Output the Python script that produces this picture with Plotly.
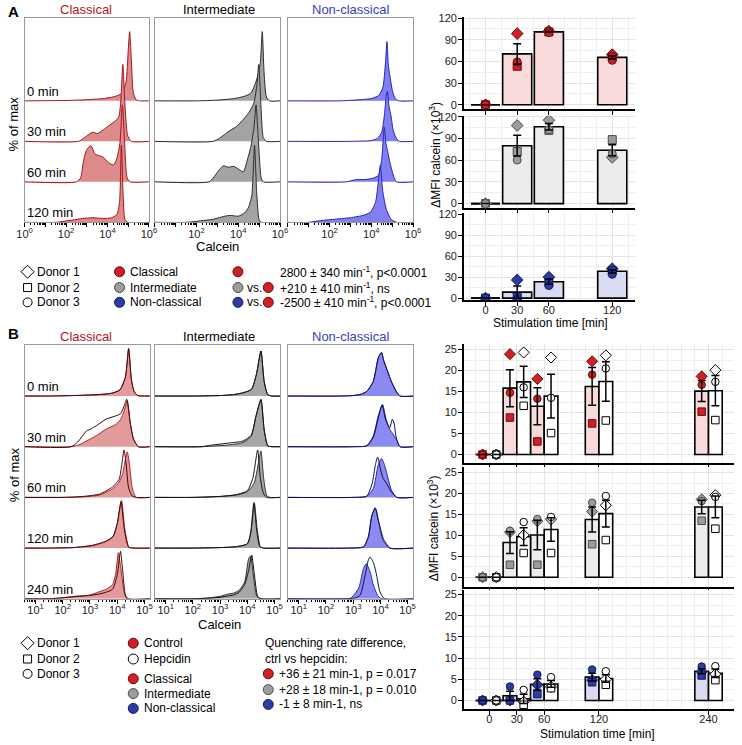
import math
import plotly.graph_objects as go

W, H = 742, 745
FONT = "Liberation Sans, Arial, Helvetica, sans-serif"

# ---------------- data: panel A bar charts (dMFI calcein x10^3) ----------------
A_TIMES = [0, 30, 60, 120]
A_CLA_D1 = [0, 98.6, 102.0, 69.5]   # diamond
A_CLA_D2 = [0, 53.4, 101.0, 66.0]   # square
A_CLA_D3 = [0, 59.4, 100.0, 61.6]   # circle
A_CLA_MEAN = [0, 70.5, 101.0, 65.7]
A_CLA_SEM = [0, 14.2, 0.6, 2.3]

A_INT_D1 = [0, 108.2, 115.5, 64.0]
A_INT_D2 = [0, 72.0, 101.4, 88.6]
A_INT_D3 = [0, 60.3, 102.3, 69.0]
A_INT_MEAN = [0, 80.2, 106.4, 73.9]
A_INT_SEM = [0, 14.4, 4.4, 7.5]

A_NON_D1 = [0, 26.0, 30.0, 42.0]
A_NON_D2 = [0, 1.5, 22.0, 39.0]
A_NON_D3 = [0, -2.0, 18.0, 34.0]
A_NON_MEAN = [0, 8.5, 23.3, 38.3]
A_NON_SEM = [0, 8.8, 3.5, 2.3]

# ---------------- data: panel B bar charts ----------------
B_TIMES = [0, 30, 60, 120, 240]
B_CLA_CTRL_D1 = [0, 23.9, 18.0, 22.2, 18.6]
B_CLA_CTRL_D2 = [0, 8.8, 3.1, 7.4, 10.2]
B_CLA_CTRL_D3 = [0, 14.7, 13.3, 19.0, 16.6]
B_CLA_CTRL_MEAN = [0, 15.8, 11.5, 16.2, 15.1]
B_CLA_CTRL_SEM = [0, 4.4, 4.4, 4.5, 2.5]
B_CLA_HEP_D1 = [0, 24.3, 23.1, 23.6, 20.1]
B_CLA_HEP_D2 = [0, 11.6, 5.1, 8.1, 8.2]
B_CLA_HEP_D3 = [0, 16.0, 13.5, 20.5, 17.3]
B_CLA_HEP_MEAN = [0, 17.3, 13.9, 17.4, 15.2]
B_CLA_HEP_SEM = [0, 3.7, 5.2, 4.7, 3.6]

B_INT_CTRL_D1 = [0, 10.8, 13.4, 15.7, 18.6]
B_INT_CTRL_D2 = [0, 3.0, 3.0, 7.9, 13.5]
B_INT_CTRL_D3 = [0, 11.1, 13.9, 17.8, 18.2]
B_INT_CTRL_MEAN = [0, 8.3, 10.1, 13.8, 16.8]
B_INT_CTRL_SEM = [0, 2.6, 3.5, 3.0, 1.6]
B_INT_HEP_D1 = [0, 10.1, 13.9, 17.2, 19.6]
B_INT_HEP_D2 = [0, 5.8, 5.8, 8.9, 11.6]
B_INT_HEP_D3 = [0, 13.2, 14.4, 19.4, 19.2]
B_INT_HEP_MEAN = [0, 9.7, 11.4, 15.2, 16.8]
B_INT_HEP_SEM = [0, 2.1, 2.8, 3.2, 2.6]

B_NON_CTRL_D1 = [0, 0.0, 3.7, 4.8, 6.8]
B_NON_CTRL_D2 = [0, 0.0, 1.5, 4.3, 5.9]
B_NON_CTRL_D3 = [0, 3.3, 6.1, 7.3, 8.0]
B_NON_CTRL_MEAN = [0, 1.1, 3.8, 5.5, 6.9]
B_NON_CTRL_SEM = [0, 1.1, 1.3, 0.9, 0.6]
B_NON_HEP_D1 = [0, -0.3, 3.2, 5.0, 6.2]
B_NON_HEP_D2 = [0, -1.0, 2.9, 3.7, 4.8]
B_NON_HEP_D3 = [0, 2.5, 5.5, 6.9, 8.1]
B_NON_HEP_MEAN = [0, 0.4, 3.9, 5.2, 6.4]
B_NON_HEP_SEM = [0, 1.1, 0.8, 0.9, 1.0]

# ---------------- data: histograms (log10 calcein, % of max) ----------------
A_ROWS = ["0 min", "30 min", "60 min", "120 min"]
HA_CLA = [
    [(2.0, 0.5), (3.0, 1.5), (3.8, 3), (4.4, 6), (4.7, 10), (4.9, 25), (5.0, 65), (5.07, 90), (5.15, 55), (5.25, 10), (5.4, 1), (5.6, 0)],
    [(2.6, 0), (2.85, 4), (3.1, 9), (3.3, 12), (3.5, 10), (3.8, 15), (4.1, 21), (4.4, 27), (4.55, 32), (4.65, 55), (4.74, 100), (4.85, 45), (4.97, 8), (5.15, 0)],
    [(2.5, 0), (2.7, 5), (2.85, 28), (3.0, 42), (3.2, 47), (3.4, 36), (3.6, 34), (3.8, 32), (4.05, 25), (4.3, 22), (4.45, 30), (4.6, 50), (4.72, 100), (4.82, 55), (4.95, 5), (5.1, 0)],
    [(1.5, 0), (2.3, 3), (2.8, 5), (3.3, 6), (3.8, 5), (4.2, 6), (4.45, 10), (4.58, 25), (4.67, 100), (4.75, 40), (4.85, 3), (5.0, 0)],
]
HA_INT = [
    [(2.0, 0), (3.0, 1), (3.8, 3), (4.3, 6), (4.6, 10), (4.85, 25), (4.98, 38), (5.06, 50), (5.15, 90), (5.24, 35), (5.35, 5), (5.5, 0)],
    [(2.8, 0), (3.1, 4), (3.4, 10), (3.6, 14), (3.9, 19), (4.2, 27), (4.5, 37), (4.75, 50), (4.9, 75), (4.98, 100), (5.08, 50), (5.2, 5), (5.35, 0)],
    [(2.6, 0), (2.8, 5), (3.1, 16), (3.3, 21), (3.5, 19), (3.8, 20), (4.1, 15), (4.25, 13), (4.45, 30), (4.6, 45), (4.75, 70), (4.85, 100), (4.95, 60), (5.1, 5), (5.2, 0)],
    [(1.5, 0), (2.2, 2), (2.8, 4), (3.2, 7), (3.6, 9), (4.0, 8), (4.3, 12), (4.5, 20), (4.65, 35), (4.78, 100), (4.88, 40), (5.0, 3), (5.1, 0)],
]
HA_NON = [
    [(2.5, 0), (3.2, 1), (4.0, 3), (4.35, 7), (4.55, 17), (4.68, 50), (4.75, 77), (4.82, 45), (4.92, 27), (5.02, 12), (5.15, 3), (5.3, 0)],
    [(3.0, 0), (4.0, 1), (4.3, 4), (4.5, 12), (4.63, 35), (4.72, 60), (4.77, 65), (4.85, 45), (4.95, 32), (5.05, 14), (5.2, 4), (5.35, 0)],
    [(2.8, 0), (3.3, 3), (3.7, 3), (4.1, 5), (4.35, 9), (4.5, 30), (4.62, 71), (4.7, 50), (4.78, 40), (4.9, 24), (5.05, 9), (5.2, 0)],
    [(1.0, 0), (1.5, 2), (2.2, 4), (3.0, 6), (3.6, 9), (3.95, 13), (4.2, 26), (4.33, 51), (4.43, 74), (4.55, 40), (4.72, 17), (4.95, 4), (5.2, 0)],
]

B_ROWS = ["0 min", "30 min", "60 min", "120 min", "240 min"]
HB_CLA_CTRL = [
    [(1.5, 0), (2.4, 1), (3.3, 3), (3.8, 6), (4.1, 13), (4.3, 40), (4.42, 100), (4.52, 35), (4.62, 10), (4.75, 1), (5.0, 0)],
    [(2.3, 0), (2.6, 4), (2.87, 12), (3.23, 23), (3.59, 37), (3.95, 47), (4.13, 58), (4.25, 75), (4.37, 97), (4.48, 50), (4.6, 16), (4.78, 0)],
    [(2.0, 0), (2.75, 1), (3.35, 5), (3.83, 18), (4.07, 32), (4.2, 50), (4.3, 80), (4.37, 96), (4.45, 70), (4.55, 20), (4.7, 0)],
    [(1.5, 0), (2.4, 1), (3.1, 5), (3.6, 14), (3.85, 24), (4.0, 50), (4.16, 100), (4.28, 40), (4.43, 2), (4.6, 0)],
    [(1.5, 0), (2.0, 2), (2.4, 5), (3.0, 8), (3.35, 15), (3.6, 20), (3.83, 30), (3.95, 55), (4.04, 97), (4.12, 70), (4.25, 15), (4.35, 0)],
]
HB_CLA_HEP = [
    [(1.5, 0), (2.4, 1), (3.3, 3), (3.8, 6), (4.1, 13), (4.3, 40), (4.42, 100), (4.52, 35), (4.62, 10), (4.75, 1), (5.0, 0)],
    [(2.3, 0), (2.55, 10), (2.87, 33), (3.05, 38), (3.23, 44), (3.59, 58), (3.95, 65), (4.13, 70), (4.25, 85), (4.35, 100), (4.48, 50), (4.6, 16), (4.78, 0)],
    [(2.0, 0), (2.75, 2), (3.35, 7), (3.83, 22), (4.07, 38), (4.17, 70), (4.25, 100), (4.33, 70), (4.42, 20), (4.55, 3), (4.7, 0)],
    [(1.5, 0), (2.4, 1), (3.1, 6), (3.6, 15), (3.85, 25), (4.0, 52), (4.14, 98), (4.26, 40), (4.42, 2), (4.6, 0)],
    [(1.5, 0), (2.0, 2), (2.4, 4), (3.0, 7), (3.35, 10), (3.6, 14), (3.83, 20), (4.0, 50), (4.12, 100), (4.2, 60), (4.3, 8), (4.4, 0)],
]
HB_INT_CTRL = [
    [(2.0, 0), (3.0, 1), (3.5, 3), (3.85, 7), (4.15, 14), (4.33, 45), (4.5, 95), (4.62, 30), (4.75, 3), (4.9, 0)],
    [(2.3, 0), (2.64, 1), (3.36, 4), (3.84, 9), (4.14, 22), (4.32, 65), (4.5, 99), (4.62, 35), (4.75, 2), (4.9, 0)],
    [(2.0, 0), (3.0, 2), (3.6, 5), (4.0, 12), (4.25, 30), (4.4, 70), (4.5, 98), (4.6, 40), (4.72, 3), (4.85, 0)],
    [(2.0, 0), (3.0, 1), (3.6, 3), (4.0, 9), (4.12, 30), (4.26, 94), (4.36, 40), (4.48, 3), (4.6, 0)],
    [(2.0, 0), (2.6, 2), (3.0, 5), (3.3, 10), (3.5, 12), (3.7, 18), (3.9, 35), (4.05, 85), (4.12, 90), (4.22, 50), (4.35, 5), (4.5, 0)],
]
HB_INT_HEP = [
    [(2.0, 0), (3.0, 1), (3.5, 3), (3.85, 7), (4.15, 14), (4.33, 45), (4.5, 95), (4.62, 30), (4.75, 3), (4.9, 0)],
    [(2.3, 0), (2.64, 3), (3.36, 8), (3.84, 12), (4.14, 24), (4.32, 65), (4.5, 100), (4.62, 35), (4.75, 2), (4.9, 0)],
    [(2.0, 0), (3.0, 2), (3.6, 6), (4.0, 14), (4.2, 40), (4.38, 100), (4.47, 45), (4.58, 10), (4.7, 0)],
    [(2.0, 0), (3.0, 1), (3.6, 3), (4.0, 9), (4.12, 32), (4.24, 96), (4.34, 40), (4.46, 3), (4.6, 0)],
    [(2.0, 0), (2.6, 1), (3.0, 3), (3.3, 6), (3.5, 8), (3.7, 14), (3.9, 30), (4.05, 60), (4.16, 92), (4.26, 50), (4.38, 5), (4.5, 0)],
]
HB_NON_CTRL = [
    [(2.5, 0), (3.0, 1), (3.3, 4), (3.5, 10), (3.74, 31), (3.92, 80), (4.04, 92), (4.12, 75), (4.22, 59), (4.4, 31), (4.58, 10), (4.72, 0)],
    [(3.0, 0), (3.5, 2), (3.74, 23), (3.92, 65), (4.08, 89), (4.2, 60), (4.34, 37), (4.46, 27), (4.58, 16), (4.72, 0)],
    [(3.0, 0), (3.5, 2), (3.74, 19), (3.92, 68), (4.04, 82), (4.14, 70), (4.22, 54), (4.4, 16), (4.6, 0)],
    [(2.8, 0), (3.38, 2), (3.56, 23), (3.68, 65), (3.8, 85), (3.92, 58), (4.1, 16), (4.34, 0)],
    [(2.6, 0), (2.9, 1), (3.2, 22), (3.38, 64), (3.48, 74), (3.62, 57), (3.74, 29), (3.92, 5), (4.05, 0)],
]
HB_NON_HEP = [
    [(2.5, 0), (3.0, 1), (3.3, 4), (3.5, 10), (3.74, 31), (3.92, 80), (4.04, 92), (4.12, 75), (4.22, 59), (4.4, 31), (4.58, 10), (4.72, 0)],
    [(3.0, 0), (3.5, 2), (3.74, 20), (3.92, 60), (4.06, 88), (4.2, 55), (4.34, 40), (4.44, 58), (4.5, 50), (4.58, 20), (4.72, 0)],
    [(3.0, 0), (3.5, 3), (3.7, 30), (3.82, 70), (3.9, 85), (4.0, 60), (4.1, 40), (4.22, 30), (4.4, 12), (4.6, 0)],
    [(2.8, 0), (3.38, 3), (3.56, 25), (3.68, 68), (3.82, 84), (3.94, 55), (4.12, 18), (4.36, 0)],
    [(2.8, 0), (3.1, 2), (3.26, 8), (3.44, 50), (3.55, 80), (3.62, 88), (3.75, 75), (3.86, 50), (3.98, 15), (4.15, 0)],
]

# ---------------- colours ----------------
RED_TXT, BLUE_TXT = "#B8141C", "#3A3EB8"
RED_M, RED_E, RED_BAR = "#CF1F27", "#6A0A0E", "#F8DADA"
GRAY_M, GRAY_E, GRAY_BAR = "#9C9C9C", "#4A4A4A", "#ECECEC"
BLUE_M, BLUE_E, BLUE_BAR = "#2E3BA2", "#151A5C", "#D8DBF2"

HIST_A = [("#DD8A8A", "#A3141C"), ("#A3A3A3", "#2B2B2B"), ("#8080F2", "#2424B5")]
HIST_B = [("#E39A9A", "#B0242A", "#3A0808"), ("#A6A6A6", "#333333", "#111111"),
          ("#8A8AF0", "#2A2AB0", "#0C0C50")]


def xdom(a, b):
    return [a / W, b / W]


def ydom(top, bot):
    return [1 - bot / H, 1 - top / H]


def xr(i):
    return "x" if i == 1 else f"x{i}"


def yr(i):
    return "y" if i == 1 else f"y{i}"


fig = go.Figure()
layout = {}

# ---------------- histograms ----------------
A_COLS = [(17, 144), (150, 278), (286, 414)]
B_COLS = [(17, 145), (150, 278), (286, 414)]
A_XR, B_XR = [0, 6], [0.6, 5.2]
A_YR, B_YR = [0, 5.05], [0, 5.01]
A_PEAK, B_PEAK = 1.9, 0.936


def minor_vals(lo, hi):
    vals = []
    for n in range(-1, 8):
        for k in range(2, 10):
            v = n + math.log10(k)
            if lo < v < hi:
                vals.append(v)
    return vals


def hist_axes(i, xd, yd, xrange, yrange, labels):
    decades = [d for d in range(0, 8) if xrange[0] <= d <= xrange[1] + 1e-9]
    layout["xaxis" if i == 1 else f"xaxis{i}"] = dict(
        domain=xd, range=xrange, anchor=yr(i), showgrid=False, zeroline=False,
        showline=True, mirror=True, linecolor="#9A9A9A", linewidth=1,
        ticks="outside", ticklen=4, tickwidth=1, tickcolor="black",
        tickvals=decades,
        ticktext=[f"10<sup>{d}</sup>" if d in labels else "" for d in decades],
        tickfont=dict(size=11, color="#222"), ticklabelstandoff=-3,
        minor=dict(tickmode="array", tickvals=minor_vals(*xrange), ticks="outside",
                   ticklen=2, tickwidth=1, tickcolor="black", showgrid=False),
        fixedrange=True)
    layout["yaxis" if i == 1 else f"yaxis{i}"] = dict(
        domain=yd, range=yrange, anchor=xr(i), showgrid=False, zeroline=False,
        showline=True, mirror=True, linecolor="#9A9A9A", linewidth=1,
        showticklabels=False, ticks="", fixedrange=True)


def curve(points, base, peak, xrange):
    xs = [xrange[0]] + [p[0] for p in points] + [xrange[1]]
    ys = [base] + [base + p[1] / 100 * peak for p in points] + [base]
    return xs, ys


# panel A histograms
for c, (curves, (fill, line)) in enumerate(zip([HA_CLA, HA_INT, HA_NON], HIST_A)):
    i = c + 1
    labels = [0, 2, 4, 6] if c == 0 else [2, 4, 6]
    hist_axes(i, xdom(*A_COLS[c]), ydom(13, 220), A_XR, A_YR, labels)
    n = len(curves)
    for r, pts in enumerate(curves):
        xs, ys = curve(pts, n - 1 - r, A_PEAK, A_XR)
        fig.add_trace(go.Scatter(x=xs, y=ys, xaxis=xr(i), yaxis=yr(i), mode="lines",
                                 fill="toself", fillcolor=fill,
                                 line=dict(color=line, width=1, shape="spline", smoothing=0.6),
                                 hoverinfo="skip"))

# panel B histograms
B_SETS = [(HB_CLA_CTRL, HB_CLA_HEP), (HB_INT_CTRL, HB_INT_HEP), (HB_NON_CTRL, HB_NON_HEP)]
for c, ((ctrl, hep), (fill, line, oline)) in enumerate(zip(B_SETS, HIST_B)):
    i = c + 4
    hist_axes(i, xdom(*B_COLS[c]), ydom(344, 601), B_XR, B_YR, [1, 2, 3, 4, 5])
    n = len(ctrl)
    for r in range(n):
        base = n - 1 - r
        xs, ys = curve(ctrl[r], base, B_PEAK, B_XR)
        fig.add_trace(go.Scatter(x=xs, y=ys, xaxis=xr(i), yaxis=yr(i), mode="lines",
                                 fill="toself", fillcolor=fill,
                                 line=dict(color=line, width=1, shape="spline", smoothing=0.6),
                                 hoverinfo="skip"))
        xs, ys = curve(hep[r], base, B_PEAK, B_XR)
        fig.add_trace(go.Scatter(x=xs, y=ys, xaxis=xr(i), yaxis=yr(i), mode="lines",
                                 line=dict(color=oline, width=1, shape="spline", smoothing=0.6),
                                 hoverinfo="skip"))

# ---------------- bar charts ----------------
def bar_axes(i, xd, yd, xrange, yrange, xticks, ydt, show_xlabels):
    layout["xaxis" if i == 1 else f"xaxis{i}"] = dict(
        domain=xd, range=xrange, anchor=yr(i), zeroline=False,
        showline=True, linecolor="black", linewidth=1.6,
        ticks="outside", ticklen=4, tickwidth=1.3, tickcolor="black",
        tickvals=xticks, showticklabels=show_xlabels,
        tickfont=dict(size=11, color="#222"), ticklabelstandoff=-5,
        showgrid=True, gridcolor="#E4E4E4", gridwidth=1,
        minor=dict(tickmode="linear", tick0=0, dtick=15, showgrid=True,
                   gridcolor="#EEEEEE", gridwidth=1),
        fixedrange=True)
    layout["yaxis" if i == 1 else f"yaxis{i}"] = dict(
        domain=yd, range=yrange, anchor=xr(i), zeroline=False,
        showline=True, linecolor="black", linewidth=1.6,
        ticks="outside", ticklen=4, tickwidth=1.3, tickcolor="black",
        tickmode="linear", tick0=0, dtick=ydt,
        tickfont=dict(size=11, color="#222"), ticklabelstandoff=-1,
        showgrid=True, gridcolor="#E4E4E4", gridwidth=1,
        minor=dict(tickmode="linear", tick0=0, dtick=ydt / 2, showgrid=True,
                   gridcolor="#EEEEEE", gridwidth=1),
        fixedrange=True)


SYMS = ["diamond", "square", "circle"]


def bar_group(i, times, mean, sem, donors, bar_fill, mfill, medge, width, offset, msize):
    xs_c = [t + offset + width / 2 for t in times]
    fig.add_trace(go.Bar(x=times, y=mean, width=width, offset=offset, xaxis=xr(i), yaxis=yr(i),
                         marker=dict(color=bar_fill, line=dict(color="black", width=1.6)),
                         hoverinfo="skip"))
    zero_x = [x for x, m in zip(xs_c, mean) if m == 0]
    if zero_x:
        fig.add_trace(go.Scatter(x=zero_x, y=[0] * len(zero_x), xaxis=xr(i), yaxis=yr(i),
                                 mode="markers", marker=dict(size=1, color="rgba(0,0,0,0)"),
                                 error_x=dict(type="constant", value=width / 2, width=0,
                                              thickness=1.6, color="black"),
                                 hoverinfo="skip"))
    for sym, vals in zip(SYMS, donors):
        fig.add_trace(go.Scatter(x=xs_c, y=vals, xaxis=xr(i), yaxis=yr(i), mode="markers",
                                 marker=dict(symbol=sym, size=msize + (1 if sym == "diamond" else 0),
                                             color=mfill, line=dict(color=medge, width=1)),
                                 hoverinfo="skip"))
    fig.add_trace(go.Scatter(x=xs_c, y=mean, xaxis=xr(i), yaxis=yr(i), mode="markers",
                             marker=dict(size=1, color="rgba(0,0,0,0)"),
                             error_y=dict(type="data", array=sem, width=4, thickness=1.5,
                                          color="black"),
                             hoverinfo="skip"))


A_BAR_Y = [(12, 105, [-5.47, 121.8]), (112, 205, [-5.47, 121.8]), (211, 299, [-3.25, 121.0])]
A_GROUPS = [
    (A_CLA_MEAN, A_CLA_SEM, [A_CLA_D1, A_CLA_D2, A_CLA_D3], RED_BAR, RED_M, RED_E),
    (A_INT_MEAN, A_INT_SEM, [A_INT_D1, A_INT_D2, A_INT_D3], GRAY_BAR, GRAY_M, GRAY_E),
    (A_NON_MEAN, A_NON_SEM, [A_NON_D1, A_NON_D2, A_NON_D3], BLUE_BAR, BLUE_M, BLUE_E),
]
for k, ((top, bot, yrange), g) in enumerate(zip(A_BAR_Y, A_GROUPS)):
    i = 7 + k
    bar_axes(i, xdom(466, 641), ydom(top, bot), [-20.4, 141.7], yrange, A_TIMES, 30, k == 2)
    mean, sem, donors, bfill, mfill, medge = g
    bar_group(i, A_TIMES, mean, sem, donors, bfill, mfill, medge, 27.5, -13.75, 8)

B_BAR_Y = [(343, 464, [-2.12, 26.35]), (468, 589, [-2.29, 26.25]), (592, 713, [-2.1, 26.1])]
B_GROUPS = [
    ((B_CLA_CTRL_MEAN, B_CLA_CTRL_SEM, [B_CLA_CTRL_D1, B_CLA_CTRL_D2, B_CLA_CTRL_D3]),
     (B_CLA_HEP_MEAN, B_CLA_HEP_SEM, [B_CLA_HEP_D1, B_CLA_HEP_D2, B_CLA_HEP_D3]), RED_BAR, RED_M, RED_E),
    ((B_INT_CTRL_MEAN, B_INT_CTRL_SEM, [B_INT_CTRL_D1, B_INT_CTRL_D2, B_INT_CTRL_D3]),
     (B_INT_HEP_MEAN, B_INT_HEP_SEM, [B_INT_HEP_D1, B_INT_HEP_D2, B_INT_HEP_D3]), GRAY_BAR, GRAY_M, GRAY_E),
    ((B_NON_CTRL_MEAN, B_NON_CTRL_SEM, [B_NON_CTRL_D1, B_NON_CTRL_D2, B_NON_CTRL_D3]),
     (B_NON_HEP_MEAN, B_NON_HEP_SEM, [B_NON_HEP_D1, B_NON_HEP_D2, B_NON_HEP_D3]), BLUE_BAR, BLUE_M, BLUE_E),
]
for k, ((top, bot, yrange), g) in enumerate(zip(B_BAR_Y, B_GROUPS)):
    i = 10 + k
    bar_axes(i, xdom(466, 742), ydom(top, bot), [-27.9, 267.9], yrange, B_TIMES, 5, k == 2)
    ctrl, hep, bfill, mfill, medge = g
    bar_group(i, B_TIMES, ctrl[0], ctrl[1], ctrl[2], bfill, mfill, medge, 15, -15, 7.5)
    bar_group(i, B_TIMES, hep[0], hep[1], hep[2], "white", "white", "black", 15, 0, 7.5)

# ---------------- legend glyphs (pixel overlay) ----------------
layout["xaxis13"] = dict(domain=[0, 1], range=[0, W], anchor="y13", visible=False, fixedrange=True)
layout["yaxis13"] = dict(domain=[0, 1], range=[H, 0], anchor="x13", visible=False, fixedrange=True)


def glyph(x, y, sym, fill, edge, size=10):
    fig.add_trace(go.Scatter(x=[x], y=[y], xaxis="x13", yaxis="y13", mode="markers",
                             marker=dict(symbol=sym, size=size, color=fill, line=dict(color=edge, width=1)),
                             hoverinfo="skip"))


for y0 in (270, 646):
    glyph(20, y0, "diamond-open", "black", "black", 10)
    glyph(20, y0 + 16, "square-open", "black", "black", 8)
    glyph(20, y0 + 31, "circle-open", "black", "black", 9)

glyph(114, 270, "circle", RED_M, RED_E)
glyph(114, 286, "circle", GRAY_M, GRAY_E)
glyph(114, 301, "circle", BLUE_M, BLUE_E)
glyph(235, 270, "circle", RED_M, RED_E)
glyph(235, 286, "circle", GRAY_M, GRAY_E)
glyph(266, 286, "circle", RED_M, RED_E)
glyph(235, 301, "circle", BLUE_M, BLUE_E)
glyph(266, 301, "circle", RED_M, RED_E)

glyph(128, 646, "circle", RED_M, RED_E)
glyph(128, 662, "circle", "white", "black")
glyph(128, 682, "circle", RED_M, RED_E)
glyph(128, 697, "circle", GRAY_M, GRAY_E)
glyph(128, 712, "circle", BLUE_M, BLUE_E)
glyph(266, 677, "circle", RED_M, RED_E)
glyph(266, 693, "circle", GRAY_M, GRAY_E)
glyph(266, 708, "circle", BLUE_M, BLUE_E)

# ---------------- text ----------------
ann = []


def txt(x, y, s, size=12, color="black", xanchor="left", angle=0, bold=False):
    if bold:
        s = f"<b>{s}</b>"
    ann.append(dict(x=x / W, y=1 - y / H, xref="paper", yref="paper", text=s, showarrow=False,
                    xanchor=xanchor, yanchor="middle", textangle=angle,
                    font=dict(size=size, color=color, family=FONT)))


txt(-2, 7, "A", 15, bold=True)
txt(-2, 333, "B", 15, bold=True)
for yt in (5, 336):
    txt(80, yt, "Classical", 13, RED_TXT, "center")
    txt(216, yt, "Intermediate", 13, "black", "center")
    txt(350, yt, "Non-classical", 13, BLUE_TXT, "center")

# row labels
for r, lab in enumerate(A_ROWS):
    ann.append(dict(x=17 / W, y=len(A_ROWS) - 1 - r, xref="paper", yref="y", text=lab,
                    showarrow=False, xanchor="left", yanchor="bottom", yshift=0,
                    font=dict(size=13, color="black", family=FONT)))
for r, lab in enumerate(B_ROWS):
    ann.append(dict(x=17 / W, y=len(B_ROWS) - 1 - r, xref="paper", yref="y4", text=lab,
                    showarrow=False, xanchor="left", yanchor="bottom", yshift=0,
                    font=dict(size=13, color="black", family=FONT)))

txt(6, 120, "% of max", 13, angle=-90, xanchor="center")
txt(6, 475, "% of max", 13, angle=-90, xanchor="center")
txt(214, 244, "Calcein", 13, xanchor="center")
txt(216, 627, "Calcein", 13, xanchor="center")

txt(437, 152, "\u0394MFI calcein (\u00d710<sup>3</sup>)", 12, angle=-90, xanchor="center")
txt(434, 530, "\u0394MFI calcein (\u00d710<sup>3</sup>)", 12, angle=-90, xanchor="center")
txt(554, 322, "Stimulation time [min]", 12, xanchor="center")
txt(603, 738, "Stimulation time [min]", 12, xanchor="center")

# legend A
txt(28, 270, "Donor 1")
txt(28, 286, "Donor 2")
txt(28, 301, "Donor 3")
txt(123, 270, "Classical")
txt(123, 286, "Intermediate")
txt(123, 301, "Non-classical")
txt(276, 270, "2800 \u00b1 340 min<sup>-1</sup>, p&lt;0.0001")
txt(242, 286, "vs.")
txt(276, 286, "+210 \u00b1 410 min<sup>-1</sup>, ns")
txt(242, 301, "vs.")
txt(276, 301, "-2500 \u00b1 410 min<sup>-1</sup>, p&lt;0.0001")

# legend B
txt(28, 646, "Donor 1")
txt(28, 662, "Donor 2")
txt(28, 677, "Donor 3")
txt(137, 646, "Control")
txt(137, 662, "Hepcidin")
txt(137, 682, "Classical")
txt(137, 697, "Intermediate")
txt(137, 712, "Non-classical")
txt(261, 646, "Quenching rate difference,")
txt(261, 662, "ctrl vs hepcidin:")
txt(275, 677, "+36 \u00b1 21 min-1, p = 0.017")
txt(275, 693, "+28 \u00b1 18 min-1, p = 0.010")
txt(275, 708, "-1 \u00b1 8 min-1, ns")

fig.update_layout(width=W, height=H, margin=dict(l=0, r=0, t=0, b=0),
                  paper_bgcolor="white", plot_bgcolor="rgba(0,0,0,0)",
                  showlegend=False, barmode="overlay", annotations=ann,
                  font=dict(family=FONT, size=11, color="black"), **layout)

# the page body has a default 8px margin; drop it so the figure sits at the window origin
fig.write_html("out.html", config={"displayModeBar": False},
               post_script="document.body.style.margin='0px';")
